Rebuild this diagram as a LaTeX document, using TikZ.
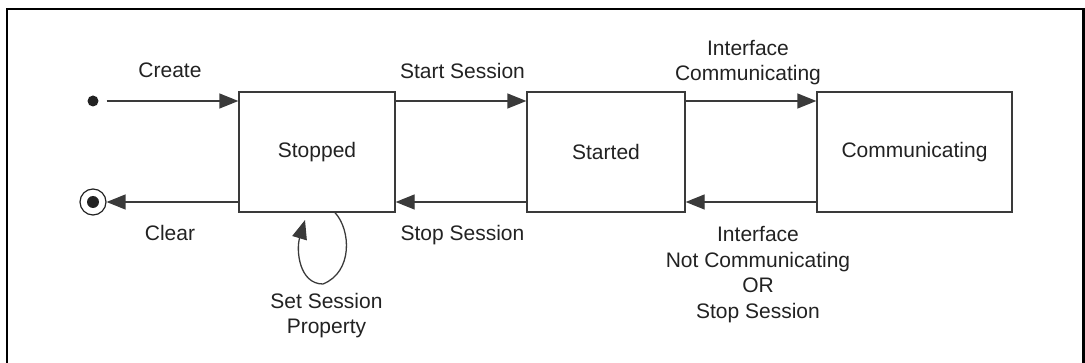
\documentclass[tikz,border=0pt]{standalone}
\usepackage{fontspec}
\setmainfont{Liberation Sans}
\usetikzlibrary{arrows.meta}
\definecolor{ln}{HTML}{3A3A3A}
\definecolor{tx}{HTML}{222222}
\tikzset{
  statebox/.style={draw=ln, line width=1.3pt, minimum height=120pt, inner sep=0pt, text=tx},
  arr/.style={draw=ln, line width=1.3pt, -{Triangle[length=19pt, width=15pt]}},
  lbl/.style={text=tx, inner sep=0pt, align=center, font=\fontsize{21}{25.5}\selectfont},
}
\begin{document}
\begin{tikzpicture}[x=1pt, y=-1pt, every node/.style={font=\fontsize{21}{25.5}\selectfont}]
\useasboundingbox (0,0) rectangle (1085,363);
% frame
\draw[line width=2.2pt] (7,363) -- (7,9) -- (1083.5,9) -- (1083.5,363);
% states
\node[statebox, minimum width=156pt] (stopped) at (317,152) {Stopped};
\node[statebox, minimum width=158pt] (started) at (606,152) {Started};
\node[statebox, minimum width=195pt] (comm) at (914.5,152) {Communicating};
% pseudo states
\node[circle, fill=tx, inner sep=0pt, minimum size=11pt] (init) at (93,101) {};
\node[circle, draw=tx, line width=1.2pt, inner sep=0pt, minimum size=26pt] (final) at (93,202) {};
\node[circle, fill=tx, inner sep=0pt, minimum size=12pt] (finalin) at (final) {};
% transitions
\draw[arr, shorten <=8pt] (init) -- (init -| stopped.west);
\draw[arr] (final -| stopped.west) -- (final.east);
\draw[arr] ([yshift=51pt]stopped.east) -- ([yshift=51pt]started.west);
\draw[arr] ([yshift=-50pt]started.west) -- ([yshift=-50pt]stopped.east);
\draw[arr] ([yshift=51pt]started.east) -- ([yshift=51pt]comm.west);
\draw[arr] ([yshift=-50pt]comm.west) -- ([yshift=-50pt]started.east);
\coordinate (loopend) at (305,220);
\draw[arr] ([xshift=18pt]stopped.south) .. controls (351,230) and (353,272) .. (323,284)
  .. controls (299,284) and (296,250) .. (loopend);
% labels
\node[lbl, anchor=base] (lcreate) at (170,78) {Create};
\node[lbl, anchor=base] (lclear) at (170,241) {Clear};
\node[lbl, anchor=base] (lstart) at (462.5,79) {Start Session};
\node[lbl, anchor=base] (lstop) at (462.5,241) {Stop Session};
\node[lbl] (lic) at (748,62.5) {Interface\\Communicating};
\node[lbl] (linc) at (758,274.5) {Interface\\Not Communicating\\OR\\Stop Session};
\node[lbl] (lset) at (326.5,315.5) {Set Session\\Property};
\end{tikzpicture}
\end{document}
